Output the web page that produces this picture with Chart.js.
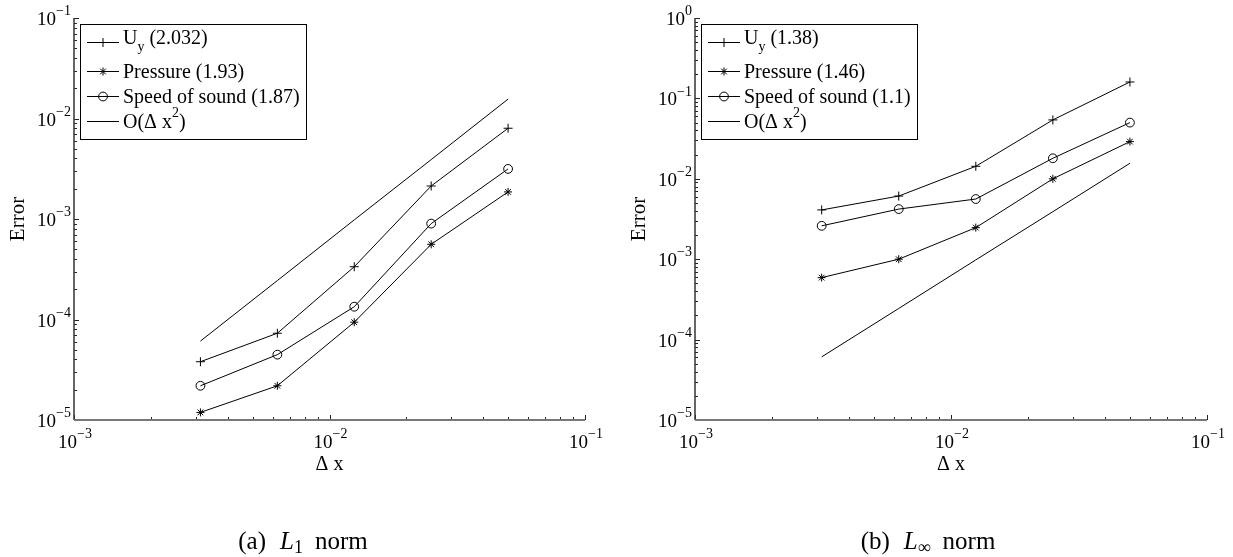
<!DOCTYPE html>
<html>
<head>
<meta charset="utf-8">
<script src="https://cdn.jsdelivr.net/npm/chart.js@4.4.0/dist/chart.umd.min.js"></script>
<style>
  body { margin: 0; background: #fff; width: 1233px; height: 557px; position: relative; overflow: hidden; }
  canvas { position: absolute; top: 0; }
  #l1 { left: 0; }
  #linf { left: 616px; }
</style>
</head>
<body>
<canvas id="l1" width="616" height="557"></canvas>
<canvas id="linf" width="617" height="557"></canvas>
<script>
// grid spacings
const dx = [0.003125, 0.00625, 0.0125, 0.025, 0.05];

// L1 errors
const l1Uy = [3.8e-5, 7.3e-5, 3.35e-4, 2.13e-3, 8.0e-3];
const l1Pressure = [1.19e-5, 2.19e-5, 9.4e-5, 5.6e-4, 1.86e-3];
const l1Sound = [2.19e-5, 4.47e-5, 1.34e-4, 9.0e-4, 3.15e-3];
const l1Order2 = [6.1e-5, 2.44e-4, 9.8e-4, 3.9e-3, 1.56e-2];
const l1Labels = ["U_y (2.032)", "Pressure (1.93)", "Speed of sound (1.87)", "O(\u0394 x^2)"];

// L-infinity errors
const linfUy = [4.1e-3, 6.1e-3, 1.43e-2, 5.4e-2, 0.16];
const linfPressure = [5.9e-4, 1.0e-3, 2.47e-3, 1.0e-2, 2.9e-2];
const linfSound = [2.6e-3, 4.2e-3, 5.6e-3, 1.8e-2, 5.0e-2];
const linfOrder2 = [6.1e-5, 2.44e-4, 9.8e-4, 3.9e-3, 1.56e-2];
const linfLabels = ["U_y (1.38)", "Pressure (1.46)", "Speed of sound (1.1)", "O(\u0394 x^2)"];

const xTicks = [1e-3, 1e-2, 1e-1];
const l1YTicks = [1e-5, 1e-4, 1e-3, 1e-2, 1e-1];
const linfYTicks = [1e-5, 1e-4, 1e-3, 1e-2, 1e-1, 1e0];

const markers = ["cross", "star", "circle", false];
const markerSize = { cross: 4.5, star: 4, circle: 4.4 };
const SERIF = '"Liberation Serif", "Times New Roman", serif';

// draws text with _x / ^x (or ^{..}) sub/superscripts
function drawRich(ctx, text, x, y, size, align) {
    let parts = [];
    let i = 0, buf = "";
    while (i < text.length) {
        let c = text[i];
        if (c === "_" || c === "^") {
            if (buf) parts.push({ t: buf, m: 0 });
            buf = "";
            let t;
            if (text[i + 1] === "{") {
                let j = text.indexOf("}", i);
                t = text.slice(i + 2, j);
                i = j + 1;
            } else {
                t = text[i + 1];
                i += 2;
            }
            parts.push({ t: t, m: c === "_" ? -1 : 1 });
        } else {
            buf += c;
            i++;
        }
    }
    if (buf) parts.push({ t: buf, m: 0 });
    let fontFor = p => (p.m === 0 ? size : Math.round(size * 0.72)) + "px " + SERIF;
    let w = 0;
    parts.forEach(p => { ctx.font = fontFor(p); p.w = ctx.measureText(p.t).width; w += p.w; });
    let cx = align === "right" ? x - w : align === "center" ? x - w / 2 : x;
    ctx.textAlign = "left";
    ctx.textBaseline = "alphabetic";
    parts.forEach(p => {
        ctx.font = fontFor(p);
        let dy = p.m === -1 ? size * 0.35 : p.m === 1 ? -size * 0.52 : 0;
        ctx.fillText(p.t, cx, y + dy);
        cx += p.w;
    });
    return w;
}

function drawMarker(ctx, style, x, y) {
    let r = markerSize[style];
    ctx.beginPath();
    if (style === "circle") {
        ctx.arc(x, y, r, 0, Math.PI * 2);
    } else {
        ctx.moveTo(x - r, y); ctx.lineTo(x + r, y);
        ctx.moveTo(x, y - r); ctx.lineTo(x, y + r);
        if (style === "star") {
            let d = r * Math.SQRT1_2;
            ctx.moveTo(x - d, y - d); ctx.lineTo(x + d, y + d);
            ctx.moveTo(x - d, y + d); ctx.lineTo(x + d, y - d);
        }
    }
    ctx.stroke();
}

function tickLabel(v) {
    return "10^{" + String(Math.round(Math.log10(v))).replace("-", "\u2212") + "}";
}

// axes, ticks, labels, legend and caption in the matlab look
function decor(setup) {
    return {
        id: "decor",
        afterDraw(chart) {
            let ctx = chart.ctx;
            let a = chart.chartArea;
            let xs = chart.scales.x, ys = chart.scales.y;
            ctx.save();

            // minor + major ticks
            ctx.strokeStyle = "#222";
            ctx.lineWidth = 1;
            ctx.beginPath();
            for (let k = -3; k < -1; k++) {
                for (let m = 2; m < 10; m++) {
                    let px = Math.round(xs.getPixelForValue(m * Math.pow(10, k))) + 0.5;
                    ctx.moveTo(px, a.bottom); ctx.lineTo(px, a.bottom - 3);
                }
            }
            xTicks.forEach(v => {
                let px = Math.round(xs.getPixelForValue(v)) + 0.5;
                ctx.moveTo(px, a.bottom); ctx.lineTo(px, a.bottom - 5);
            });
            let yt = setup.yTicks;
            for (let n = 0; n < yt.length - 1; n++) {
                for (let m = 2; m < 10; m++) {
                    let py = Math.round(ys.getPixelForValue(m * yt[n])) + 0.5;
                    ctx.moveTo(a.left, py); ctx.lineTo(a.left + 3, py);
                }
            }
            yt.forEach(v => {
                let py = Math.round(ys.getPixelForValue(v)) + 0.5;
                ctx.moveTo(a.left, py); ctx.lineTo(a.left + 5, py);
            });
            ctx.stroke();

            // axis lines
            ctx.strokeStyle = "#333";
            ctx.lineWidth = 1.5;
            ctx.beginPath();
            ctx.moveTo(a.left, a.top); ctx.lineTo(a.left, a.bottom);
            ctx.stroke();
            ctx.strokeStyle = "#777";
            ctx.lineWidth = 2.2;
            ctx.beginPath();
            ctx.moveTo(a.left, a.bottom); ctx.lineTo(a.right, a.bottom);
            ctx.stroke();

            // tick labels
            ctx.fillStyle = "#000";
            xTicks.forEach(v => drawRich(ctx, tickLabel(v), xs.getPixelForValue(v) + 1, a.bottom + 28, 19, "center"));
            yt.forEach(v => drawRich(ctx, tickLabel(v), a.left - 3, ys.getPixelForValue(v) + 7, 19, "right"));

            // axis titles
            ctx.font = "20px " + SERIF;
            ctx.textAlign = "center";
            ctx.fillText("\u0394 x", (a.left + a.right) / 2, a.bottom + 50);
            ctx.save();
            ctx.translate(a.left - 56, (a.top + a.bottom) / 2);
            ctx.rotate(-Math.PI / 2);
            ctx.textAlign = "center";
            ctx.textBaseline = "middle";
            ctx.font = "21px " + SERIF;
            ctx.fillText("Error", 0, 0);
            ctx.restore();

            // legend
            ctx.font = "20px " + SERIF;
            let textW = 0;
            setup.labels.forEach(l => { textW = Math.max(textW, ctx.measureText(l.replace(/[_^]/g, "")).width); });
            let bx = a.left + 6, by = a.top + 6;
            let bw = 43 + textW + 6, bh = 115;
            ctx.fillStyle = "#fff";
            ctx.fillRect(bx, by, bw, bh);
            ctx.strokeStyle = "#000";
            ctx.lineWidth = 1;
            ctx.strokeRect(Math.round(bx) + 0.5, by + 0.5, Math.round(bw), bh);
            let rows = [18, 47, 72, 97];
            ctx.fillStyle = "#000";
            setup.labels.forEach((l, n) => {
                let ry = by + rows[n] + 0.5;
                ctx.beginPath();
                ctx.moveTo(bx + 7, ry); ctx.lineTo(bx + 39, ry);
                ctx.stroke();
                if (markers[n]) drawMarker(ctx, markers[n], bx + 23, ry);
                drawRich(ctx, l, bx + 43, ry + (n === 0 ? 1 : 6), 20, "left");
            });

            // caption
            let cx = setup.captionX, cy = 549;
            let fs = 25;
            ctx.textAlign = "left";
            ctx.font = fs + "px " + SERIF;
            let w1 = ctx.measureText(setup.captionTag).width;
            let wL, wS, wN;
            ctx.font = "italic " + fs + "px " + SERIF; wL = ctx.measureText("L").width;
            ctx.font = "18px " + SERIF; wS = ctx.measureText(setup.captionSub).width;
            ctx.font = fs + "px " + SERIF; wN = ctx.measureText("norm").width;
            let total = w1 + 14 + wL + wS + 12 + wN;
            let px = cx - total / 2;
            ctx.font = fs + "px " + SERIF; ctx.fillText(setup.captionTag, px, cy); px += w1 + 14;
            ctx.font = "italic " + fs + "px " + SERIF; ctx.fillText("L", px, cy); px += wL;
            ctx.font = "18px " + SERIF; ctx.fillText(setup.captionSub, px, cy + 4); px += wS + 12;
            ctx.font = fs + "px " + SERIF; ctx.fillText("norm", px, cy);

            ctx.restore();
        }
    };
}

function makeChart(id, series, labels, yTicks, pad, caption) {
    let datasets = series.map((ys, n) => ({
        label: labels[n],
        data: dx.map((x, i) => ({ x: x, y: ys[i] })),
        borderColor: "#000",
        borderWidth: 1,
        pointStyle: markers[n] || "circle",
        pointRadius: markers[n] ? markerSize[markers[n]] : 0,
        pointBorderColor: "#000",
        pointBorderWidth: 1,
        pointBackgroundColor: "rgba(0,0,0,0)",
        fill: false,
        tension: 0
    }));
    return new Chart(document.getElementById(id), {
        type: "line",
        data: { datasets: datasets },
        options: {
            responsive: false,
            animation: false,
            layout: { padding: pad },
            plugins: { legend: { display: false }, tooltip: { enabled: false } },
            scales: {
                x: {
                    type: "logarithmic", min: 1e-3, max: 1e-1,
                    ticks: { display: false }, grid: { display: false }, border: { display: false },
                    afterFit: s => { s.height = 0; }
                },
                y: {
                    type: "logarithmic", min: yTicks[0], max: yTicks[yTicks.length - 1],
                    ticks: { display: false }, grid: { display: false }, border: { display: false },
                    afterFit: s => { s.width = 0; }
                }
            }
        },
        plugins: [decor(Object.assign({ yTicks: yTicks, labels: labels }, caption))]
    });
}

makeChart("l1", [l1Uy, l1Pressure, l1Sound, l1Order2], l1Labels, l1YTicks,
    { left: 74, top: 18, right: 31, bottom: 137 },
    { captionTag: "(a)", captionSub: "1", captionX: 303 });

makeChart("linf", [linfUy, linfPressure, linfSound, linfOrder2], linfLabels, linfYTicks,
    { left: 79, top: 18, right: 26, bottom: 137 },
    { captionTag: "(b)", captionSub: "\u221E", captionX: 312 });
</script>
</body>
</html>
